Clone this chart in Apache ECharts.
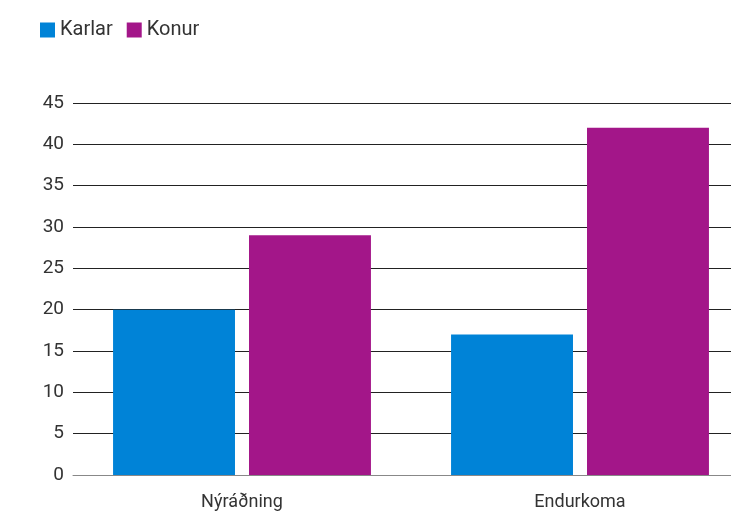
<!DOCTYPE html>
<html><head><meta charset="utf-8">
<script src="https://cdn.jsdelivr.net/npm/echarts@6/dist/echarts.min.js"></script>
<style>html,body{margin:0;padding:0;background:#fff;overflow:hidden;width:731px;height:511px}#c{width:769px;height:511px}</style>
</head><body><div id="c"></div>
<script>
const categories = ['Nýráðning', 'Endurkoma'];
const karlar = [20, 17];
const konur = [29, 42];
const chart = echarts.init(document.getElementById('c'), null, {renderer: 'canvas'});
chart.setOption({
  animation: false,
  textStyle: {fontFamily: 'Roboto'},
  legend: {
    left: 35, top: 15, itemWidth: 15, itemHeight: 15, itemGap: 14,
    icon: 'rect',
    textStyle: {fontSize: 20, color: '#333', padding: [0,0,0,0]},
    data: ['Karlar', 'Konur']
  },
  grid: {left: 73, top: 103, width: 676, height: 377},
  xAxis: {
    type: 'category', data: categories,
    axisLine: {lineStyle: {color: '#888', width: 1}},
    axisTick: {show: false},
    axisLabel: {fontSize: 18, color: '#333', margin: 18}
  },
  yAxis: {
    type: 'value', min: 0, max: 45, interval: 5,
    axisLine: {show: false}, axisTick: {show: false},
    axisLabel: {fontSize: 19, color: '#333', margin: 9},
    splitLine: {lineStyle: {color: '#222', width: 1}}
  },
  series: [
    {name: 'Karlar', type: 'bar', data: karlar, itemStyle: {color: '#0083d7'}, barGap: '11.5%', barCategoryGap: '23.7%'},
    {name: 'Konur', type: 'bar', data: konur, itemStyle: {color: '#a31689'}}
  ]
});
</script></body></html>
